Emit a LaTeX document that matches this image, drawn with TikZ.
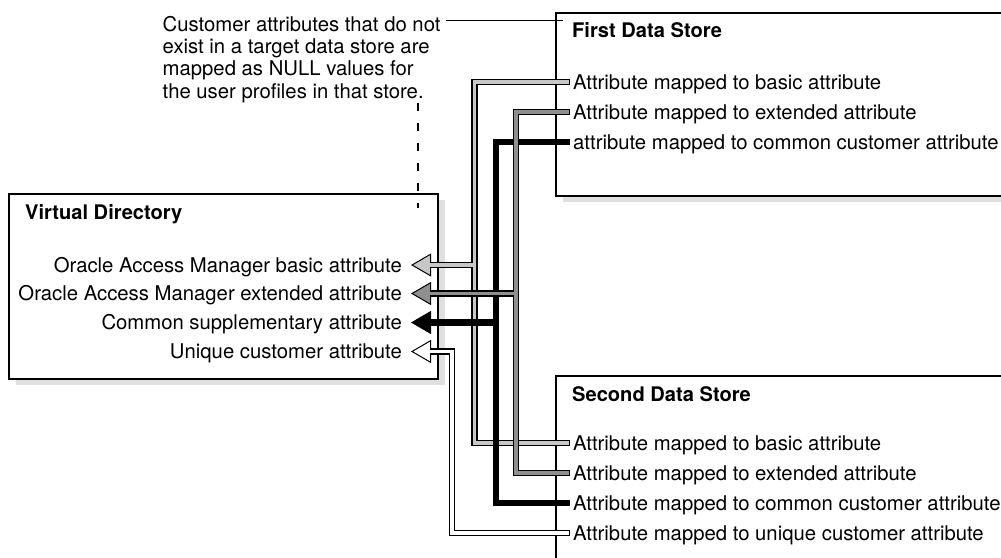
\documentclass[tikz,border=0pt]{standalone}
\usepackage{fontspec}
\setmainfont{TeX Gyre Heros}
\usetikzlibrary{arrows.meta,shadows}
\definecolor{lgray}{gray}{0.78}
\definecolor{mgray}{gray}{0.56}
\definecolor{shade}{gray}{0.88}
\begin{document}
\begin{tikzpicture}[x=1pt,y=-1pt,
  every node/.style={font=\fontsize{20.3}{22.3}\selectfont},
  box/.style={draw=black, fill=white, line width=1.8pt, anchor=north west,
    drop shadow={shadow xshift=7pt, shadow yshift=-6pt, fill=shade, opacity=1}},
  titletext/.style={font=\fontsize{20.1}{22.3}\selectfont\bfseries, anchor=base west, inner sep=0pt},
  rowtext/.style={text height=14.3pt, text depth=0pt, inner ysep=0pt},
  lrow/.style={rowtext, anchor=west, inner xsep=3pt},
  rrow/.style={rowtext, anchor=east, inner xsep=9pt},
  outerline/.style={line width=6.4pt, draw=black},
  innerline/.style={line width=3.6pt},
  leader/.style={line width=1pt, draw=black},
  dashline/.style={line width=1.2pt, draw=black, dash pattern=on 7.5pt off 12.5pt},
  tipfill/.style={-{Triangle[length=20pt,width=23pt,line width=1pt,fill=#1]}}
]
\useasboundingbox (0,0) rectangle (1001,557);
\clip (0,0) rectangle (1001,557);

% boxes
\node[box, minimum width=429pt, minimum height=185pt] (vd) at (8,193) {};
\node[box, minimum width=470pt, minimum height=183pt] (fs) at (555,12) {};
\node[box, minimum width=470pt, minimum height=230pt] (ss) at (555,375) {};

% titles
\node[titletext] (vdt) at (25,219.5) {Virtual Directory};
\node[titletext] (fst) at (572,37.5) {First Data Store};
\node[titletext] (sst) at (572,401.5) {Second Data Store};

% callout
\node[align=left, anchor=north west, inner sep=0pt] (note) at (162.5,15.8)
  {Customer attributes that do not\\exist in a target data store are\\mapped as NULL values for\\the user profiles in that store.};
\coordinate (n1) at (446,20.4);
\coordinate (n2) at (563,20.4);
\draw[leader] (n1) -- (n2);
\coordinate (d1) at (418,103);
\coordinate (d2) at (418,208);
\draw[dashline] (d1) -- (d2);

% rows
\node[lrow] (f1) at (570,82) {Attribute mapped to basic attribute};
\node[lrow] (f2) at (570,112) {Attribute mapped to extended attribute};
\node[lrow] (f3) at (570,142) {attribute mapped to common customer attribute};
\node[lrow] (s1) at (570,443) {Attribute mapped to basic attribute};
\node[lrow] (s2) at (570,473) {Attribute mapped to extended attribute};
\node[lrow] (s3) at (570,503) {Attribute mapped to common customer attribute};
\node[lrow] (s4) at (570,533) {Attribute mapped to unique customer attribute};
\node[rrow] (v1) at (411,265) {Oracle Access Manager basic attribute};
\node[rrow] (v2) at (411,293.5) {Oracle Access Manager extended attribute};
\node[rrow] (v3) at (411,322.5) {Common supplementary attribute};
\node[rrow] (v4) at (411,351.5) {Unique customer attribute};

% column positions
\coordinate (xl) at (474.5,0);
\coordinate (xb) at (496,0);
\coordinate (xm) at (516,0);
\coordinate (xw) at (452,0);

% light gray
\draw[outerline] (f1.west) -| (xl |- s1.west) -- (s1.west);
\draw[outerline, tipfill=lgray] (xl |- v1.east) -- (v1.east);
\draw[innerline, lgray, shorten <=1pt, shorten >=1pt] (f1.west) -| (xl |- s1.west) -- (s1.west);
\draw[innerline, lgray, shorten >=18pt] (xl |- v1.east) -- (v1.east);

% black
\draw[outerline] (f3.west) -| (xb |- s3.west) -- (s3.west);
\draw[outerline, tipfill=black] (xb |- v3.east) -- (v3.east);

% mid gray
\draw[outerline] (f2.west) -| (xm |- s2.west) -- (s2.west);
\draw[outerline, tipfill=mgray] (xm |- v2.east) -- (v2.east);
\draw[innerline, mgray, shorten <=1pt, shorten >=1pt] (f2.west) -| (xm |- s2.west) -- (s2.west);
\draw[innerline, mgray, shorten >=18pt] (xm |- v2.east) -- (v2.east);

% white
\draw[outerline, tipfill=white] (s4.west) -| (xw |- v4.east) -- (v4.east);
\draw[innerline, white, shorten <=1pt, shorten >=18pt] (s4.west) -| (xw |- v4.east) -- (v4.east);
\end{tikzpicture}
\end{document}
